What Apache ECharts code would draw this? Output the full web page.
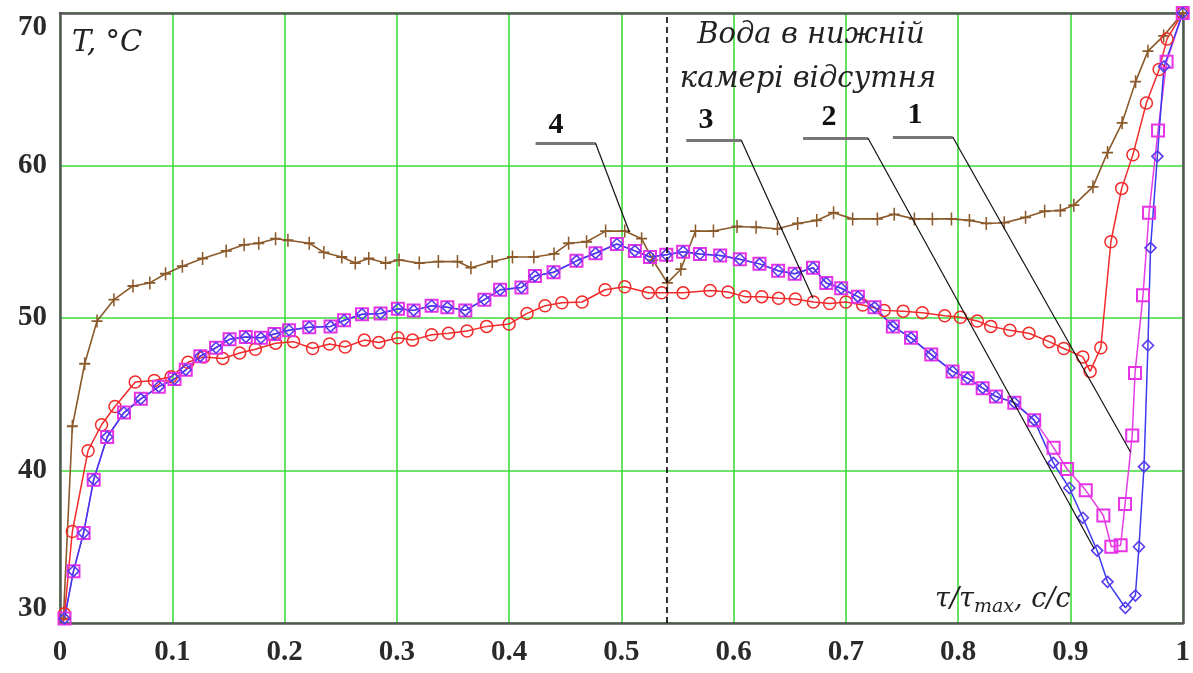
<!DOCTYPE html>
<html>
<head>
<meta charset="utf-8">
<script src="https://cdn.jsdelivr.net/npm/echarts@6/dist/echarts.min.js"></script>
<style>
html,body{margin:0;padding:0;background:#fff;}
#chart{width:1193px;height:673px;}
</style>
</head>
<body>
<div id="chart"></div>
<script>
// ---- data (x = τ/τmax, T = °C) ----
const xTicks = [0, 0.1, 0.2, 0.3, 0.4, 0.5, 0.6, 0.7, 0.8, 0.9, 1];
const yTicks = [30, 40, 50, 60, 70];

// curve 4 (brown, plus markers)
const x4 = [0.003, 0.011, 0.022, 0.033, 0.048, 0.065, 0.080, 0.094, 0.109, 0.127, 0.148, 0.164, 0.177, 0.192, 0.203, 0.222, 0.235, 0.251, 0.263, 0.275, 0.290, 0.302, 0.320, 0.337, 0.354, 0.366, 0.385, 0.403, 0.422, 0.440, 0.453, 0.469, 0.486, 0.503, 0.518, 0.528, 0.541, 0.553, 0.566, 0.582, 0.603, 0.620, 0.639, 0.657, 0.674, 0.689, 0.706, 0.728, 0.743, 0.761, 0.777, 0.794, 0.810, 0.825, 0.841, 0.860, 0.877, 0.891, 0.903, 0.920, 0.933, 0.946, 0.958, 0.969, 0.983, 1.0];
const T4 = [30.3, 42.9, 47.0, 49.8, 51.2, 52.1, 52.3, 52.9, 53.4, 53.9, 54.4, 54.8, 54.9, 55.2, 55.1, 54.9, 54.3, 54.0, 53.6, 53.9, 53.6, 53.8, 53.6, 53.7, 53.7, 53.3, 53.7, 54.0, 54.0, 54.2, 54.9, 55.0, 55.7, 55.7, 55.2, 53.8, 52.3, 53.2, 55.7, 55.7, 56.0, 55.95, 55.85, 56.2, 56.4, 56.9, 56.5, 56.5, 56.8, 56.5, 56.5, 56.5, 56.4, 56.2, 56.25, 56.6, 57.0, 57.05, 57.4, 58.6, 60.85, 62.8, 65.5, 67.5, 68.5, 70];

// curve 3 (red, circles)
const x3 = [0.004, 0.011, 0.025, 0.037, 0.049, 0.067, 0.084, 0.099, 0.114, 0.128, 0.145, 0.160, 0.174, 0.192, 0.208, 0.225, 0.240, 0.254, 0.271, 0.284, 0.301, 0.314, 0.331, 0.346, 0.3625, 0.380, 0.400, 0.416, 0.432, 0.447, 0.465, 0.4855, 0.503, 0.524, 0.536, 0.555, 0.579, 0.595, 0.610, 0.625, 0.640, 0.655, 0.671, 0.6855, 0.700, 0.715, 0.734, 0.751, 0.768, 0.788, 0.802, 0.817, 0.829, 0.846, 0.863, 0.881, 0.894, 0.911, 0.9175, 0.927, 0.936, 0.9456, 0.9556, 0.9676, 0.979, 0.986, 1.0];
const T3 = [30.6, 36.0, 41.3, 43.0, 44.2, 45.8, 45.9, 46.15, 47.1, 47.45, 47.35, 47.7, 47.95, 48.35, 48.45, 48.0, 48.3, 48.1, 48.55, 48.4, 48.7, 48.55, 48.9, 49.0, 49.15, 49.45, 49.6, 50.3, 50.8, 51.0, 51.05, 51.85, 52.05, 51.65, 51.65, 51.65, 51.8, 51.7, 51.4, 51.4, 51.3, 51.25, 51.05, 50.95, 51.05, 50.85, 50.5, 50.45, 50.35, 50.15, 50.05, 49.8, 49.45, 49.2, 49.0, 48.45, 48.0, 47.45, 46.5, 48.05, 55.0, 58.5, 60.7, 64.1, 66.3, 68.3, 70];

// common part of curves 1 and 2 (they coincide up to ~0.87)
const xCommon = [0.004, 0.012, 0.021, 0.030, 0.042, 0.057, 0.072, 0.088, 0.102, 0.112, 0.125, 0.139, 0.151, 0.1655, 0.179, 0.191, 0.204, 0.222, 0.241, 0.253, 0.269, 0.2855, 0.301, 0.315, 0.331, 0.345, 0.361, 0.378, 0.392, 0.411, 0.423, 0.4396, 0.460, 0.477, 0.496, 0.512, 0.5255, 0.540, 0.555, 0.570, 0.588, 0.6055, 0.623, 0.6396, 0.6544, 0.6707, 0.6825, 0.6958, 0.7107, 0.7255, 0.7418, 0.758, 0.776, 0.795, 0.8084, 0.8218, 0.8336, 0.850, 0.8677];
const TCommon = [30.3, 33.4, 35.9, 39.4, 42.2, 43.8, 44.7, 45.5, 46.0, 46.6, 47.5, 48.05, 48.6, 48.75, 48.7, 48.95, 49.2, 49.4, 49.45, 49.85, 50.25, 50.3, 50.6, 50.5, 50.8, 50.7, 50.5, 51.2, 51.85, 52.0, 52.75, 53.0, 53.75, 54.25, 54.85, 54.4, 54.0, 54.15, 54.35, 54.2, 54.1, 53.85, 53.55, 53.1, 52.9, 53.3, 52.3, 51.95, 51.4, 50.7, 49.45, 48.7, 47.6, 46.5, 46.05, 45.4, 44.85, 44.45, 43.3];

// curve 1 (magenta squares) after the split
const x1Tail = [0.885, 0.897, 0.9136, 0.9293, 0.9364, 0.9447, 0.9486, 0.955, 0.9575, 0.9646, 0.970, 0.978, 0.9856, 1.0];
const T1Tail = [41.5, 40.1, 38.7, 37.05, 35.0, 35.1, 37.8, 42.3, 46.4, 51.5, 56.9, 62.3, 66.8, 70];

// curve 2 (blue diamonds) after the split
const x2Tail = [0.8847, 0.899, 0.911, 0.9237, 0.933, 0.9489, 0.9578, 0.961, 0.9655, 0.969, 0.9713, 0.9774, 0.9833, 1.0];
const T2Tail = [40.5, 38.85, 36.9, 34.75, 32.7, 31.0, 31.8, 35.0, 40.25, 48.2, 54.6, 60.6, 66.5, 70];

// dashed line: "no water in lower chamber" from here
const dryStartX = 0.541;

// leader lines [x, T]: label end, bend, curve end
const leader1 = [[0.7418, 61.87], [0.7951, 61.87], [0.9536, 41.2]];
const leader2 = [[0.6618, 61.8], [0.7196, 61.8], [0.9211, 34.87]];
const leader3 = [[0.5578, 61.67], [0.6067, 61.67], [0.6707, 51.29]];
const leader4 = [[0.4236, 61.48], [0.4769, 61.48], [0.5071, 55.64]];

const zip = (xs, ys) => xs.map((x, i) => [x, ys[i]]);
const pts1 = zip(xCommon, TCommon).concat(zip(x1Tail, T1Tail));
const pts2 = zip(xCommon, TCommon).concat(zip(x2Tail, T2Tail));
const pts3 = zip(x3, T3);
const pts4 = zip(x4, T4);

const plusPath = 'path://M4.3,0H5.7V4.3H10V5.7H5.7V10H4.3V5.7H0V4.3H4.3Z';

function leaderLines(p) {
  return [
    [{coord: p[0], lineStyle: {color: '#777', width: 3, type: 'solid'}}, {coord: p[1]}],
    [{coord: p[1], lineStyle: {color: '#111', width: 1.2, type: 'solid'}}, {coord: p[2]}]
  ];
}

const chart = echarts.init(document.getElementById('chart'), null, {renderer: 'canvas'});
const axisFont = {fontFamily: 'Liberation Serif', fontWeight: 'bold', fontSize: 29, color: '#2a2a2a'};
const gridGreen = '#3ddc3d';
const frame = {show: true, onZero: false, lineStyle: {color: '#555', width: 2.5}};

chart.setOption({
  animation: false,
  backgroundColor: '#fff',
  grid: {left: 60, right: 7, top: 13, bottom: 50},
  xAxis: [{
    type: 'value', min: xTicks[0], max: xTicks[xTicks.length - 1], interval: 0.1, position: 'bottom',
    axisLine: frame, axisTick: {show: false},
    axisLabel: Object.assign({margin: 15, formatter: v => String(Math.round(v * 10) / 10)}, axisFont),
    splitLine: {show: true, lineStyle: {color: gridGreen, width: 1.6}}
  }, {
    type: 'value', min: xTicks[0], max: xTicks[xTicks.length - 1], interval: 0.1, position: 'top',
    axisLine: frame, axisTick: {show: false}, axisLabel: {show: false}, splitLine: {show: false}
  }],
  yAxis: [{
    type: 'value', min: yTicks[0], max: yTicks[yTicks.length - 1], interval: 10, position: 'left',
    axisLine: frame, axisTick: {show: false},
    axisLabel: Object.assign({margin: 13, verticalAlignMinLabel: 'bottom', verticalAlignMaxLabel: 'top'}, axisFont),
    splitLine: {show: true, lineStyle: {color: gridGreen, width: 1.6}}
  }, {
    type: 'value', min: yTicks[0], max: yTicks[yTicks.length - 1], interval: 10, position: 'right',
    axisLine: frame, axisTick: {show: false}, axisLabel: {show: false}, splitLine: {show: false}
  }],
  series: [
    {
      name: '4', type: 'line', data: pts4, showAllSymbol: true,
      symbol: plusPath, symbolSize: [11, 13],
      lineStyle: {color: '#8b5a2b', width: 1.6},
      itemStyle: {color: '#8b5a2b'},
      markLine: {
        silent: true, symbol: 'none', label: {show: false},
        lineStyle: {color: '#000', type: [6, 4], width: 1.6},
        data: [{xAxis: dryStartX}]
      }
    },
    {
      name: '3', type: 'line', data: pts3, showAllSymbol: true,
      symbol: 'circle', symbolSize: 12,
      lineStyle: {color: '#f22a2a', width: 1.5},
      itemStyle: {color: 'rgba(0,0,0,0)', borderColor: '#f22a2a', borderWidth: 1.5}
    },
    {
      name: '1', type: 'line', data: pts1, showAllSymbol: true,
      symbol: 'rect', symbolSize: 12,
      lineStyle: {color: '#e63de6', width: 1.5},
      itemStyle: {color: 'rgba(0,0,0,0)', borderColor: '#e633e6', borderWidth: 2}
    },
    {
      name: '2', type: 'line', data: pts2, showAllSymbol: true,
      symbol: 'diamond', symbolSize: 11,
      lineStyle: {color: '#3a3aee', width: 1.5},
      itemStyle: {color: 'rgba(0,0,0,0)', borderColor: '#5a3af0', borderWidth: 1.6}
    },
    {
      name: 'leaders', type: 'line', data: [], z: 10,
      markLine: {
        silent: true, symbol: 'none', label: {show: false},
        lineStyle: {type: 'solid'},
        data: [].concat(leaderLines(leader1), leaderLines(leader2), leaderLines(leader3), leaderLines(leader4))
      }
    }
  ],
  graphic: [
    {type: 'text', x: 72, y: 43, z: 20, style: {text: 'T, °C', font: 'italic 29px "DejaVu Serif"', fill: '#222', align: 'left', verticalAlign: 'middle'}},
    {type: 'text', x: 811, y: 35, z: 20, style: {text: 'Вода в нижній', font: 'italic 29px "DejaVu Serif"', fill: '#222', align: 'center', verticalAlign: 'middle'}},
    {type: 'text', x: 808, y: 79, z: 20, style: {text: 'камері відсутня', font: 'italic 29px "DejaVu Serif"', fill: '#222', align: 'center', verticalAlign: 'middle'}},
    {type: 'text', x: 556, y: 125, z: 20, style: {text: '4', font: 'bold 30px "Liberation Serif"', fill: '#111', align: 'center', verticalAlign: 'middle'}},
    {type: 'text', x: 706, y: 120, z: 20, style: {text: '3', font: 'bold 30px "Liberation Serif"', fill: '#111', align: 'center', verticalAlign: 'middle'}},
    {type: 'text', x: 829, y: 117, z: 20, style: {text: '2', font: 'bold 30px "Liberation Serif"', fill: '#111', align: 'center', verticalAlign: 'middle'}},
    {type: 'text', x: 915, y: 115, z: 20, style: {text: '1', font: 'bold 30px "Liberation Serif"', fill: '#111', align: 'center', verticalAlign: 'middle'}},
    {type: 'text', x: 935, y: 600, z: 20, style: {
      text: '{a|τ/τ}{b|max}{a|, с/с}', align: 'left', verticalAlign: 'middle',
      rich: {
        a: {font: 'italic 27px "DejaVu Serif"', fill: '#222', verticalAlign: 'middle'},
        b: {font: 'italic 19px "DejaVu Serif"', fill: '#222', padding: [14, 0, 0, 0], verticalAlign: 'middle'}
      }
    }}
  ]
});
</script>
</body>
</html>
